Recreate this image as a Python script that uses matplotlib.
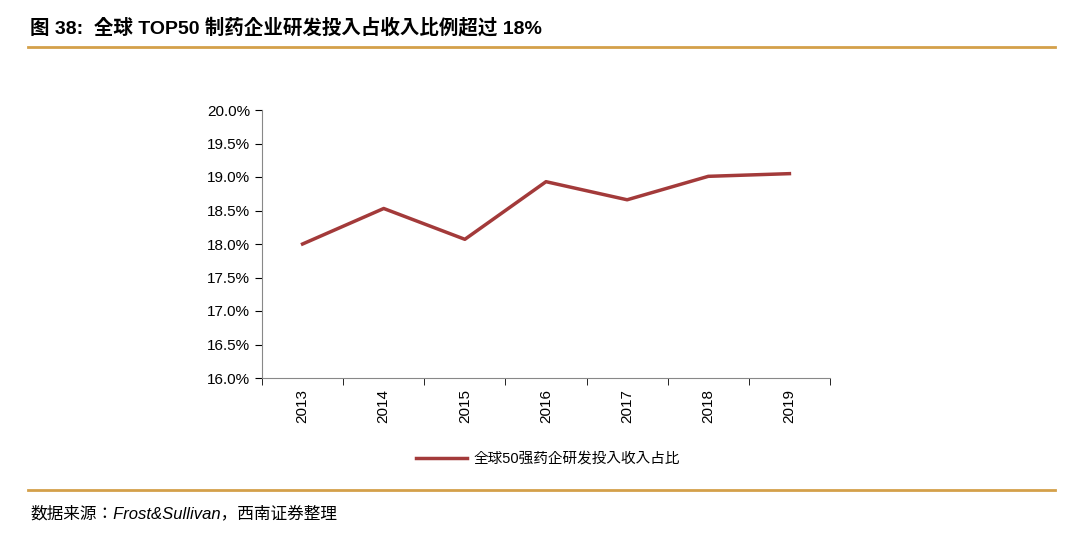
import matplotlib
matplotlib.use("Agg")
import matplotlib.pyplot as plt
from matplotlib.lines import Line2D

years = ["2013", "2014", "2015", "2016", "2017", "2018", "2019"]
ratio = [18.00, 18.53, 18.07, 18.93, 18.66, 19.01, 19.05]
yticks = [16.0, 16.5, 17.0, 17.5, 18.0, 18.5, 19.0, 19.5, 20.0]

cjk = ["Liberation Sans", "Noto Sans CJK SC", "Noto Sans CJK JP", "Noto Sans CJK TC", "DejaVu Sans"]
plt.rcParams["font.family"] = cjk
fig = plt.figure(figsize=(10.8, 5.43), dpi=100)
ax = fig.add_axes([262/1080, 165/543, 568/1080, 268/543])
x = list(range(len(years)))
ax.plot(x, ratio, color="#A33A3A", lw=2.5)
ax.set_xlim(-0.5, 6.5)
ax.set_ylim(16, 20)
ax.set_yticks(yticks)
ax.set_yticklabels([f"{v:.1f}%" for v in yticks], fontsize=11)
ax.set_xticks(x)
ax.set_xticklabels(years, rotation=90, fontsize=11)
ax.set_xticks([i + 0.5 for i in range(-1, 7)], minor=True)
ax.tick_params(axis="x", which="major", length=0, pad=8)
ax.tick_params(axis="x", which="minor", length=5, direction="out")
ax.tick_params(axis="y", length=5, direction="out")
for s in ["top", "right"]:
    ax.spines[s].set_visible(False)
for s in ["left", "bottom"]:
    ax.spines[s].set_color("#888888")

fig.legend(handles=[Line2D([], [], color="#A33A3A", lw=2.5)],
           labels=["全球50强药企研发投入收入占比"], prop={"size": 10.5},
           loc="center", bbox_to_anchor=(548/1080, 1 - 459/543), frameon=False,
           handlelength=3.5, handletextpad=0.4)

fig.text(30/1080, 1 - 28/543, "图 38:  全球 TOP50 制药企业研发投入占收入比例超过 18%",
         fontweight="bold", fontsize=14, va="center")
orange = "#D4A04A"
fig.add_artist(Line2D([28/1080, 1055/1080], [1 - 47/543] * 2, color=orange, lw=2))
fig.add_artist(Line2D([28/1080, 1055/1080], [1 - 490/543] * 2, color=orange, lw=2))
fig.text(30/1080, 1 - 513/543, "数据来源：Frost&Sullivan，西南证券整理",
         fontstyle="italic", fontsize=12, va="center")
fig.savefig("out.png", dpi=100)
